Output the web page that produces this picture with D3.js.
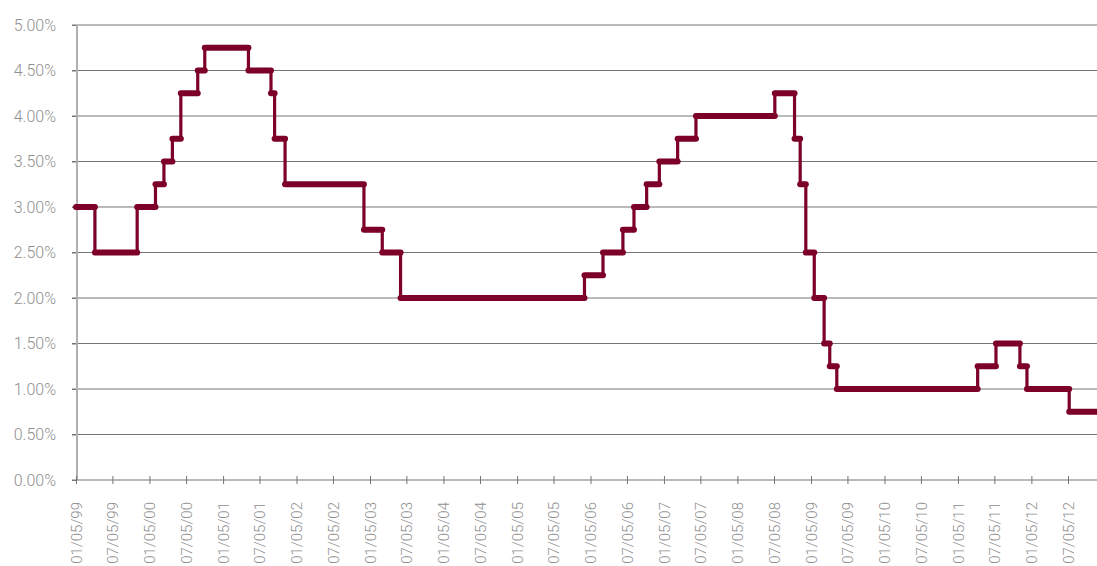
<!DOCTYPE html>
<html>
<head>
<meta charset="utf-8">
<script src="https://cdn.jsdelivr.net/npm/d3@7"></script>
<style>
  html, body { margin: 0; padding: 0; background: #fff; }
  svg { display: block; }
  text { font-family: Roboto, "Noto Sans", sans-serif; font-weight: 300; fill: #8f8f8f; }
</style>
</head>
<body>
<svg id="chart" width="1097" height="566"></svg>
<script>
// Policy rate: dates when the rate changed, and the rate (%) from that date on
const changeDates = [
  "1999-01-05","1999-04-09","1999-11-05","2000-02-04","2000-03-17","2000-04-28",
  "2000-06-09","2000-09-01","2000-10-06","2001-05-11","2001-08-31","2001-09-18",
  "2001-11-09","2002-12-06","2003-03-07","2003-06-06","2005-12-06","2006-03-08",
  "2006-06-15","2006-08-09","2006-10-11","2006-12-13","2007-03-14","2007-06-13",
  "2008-07-09","2008-10-15","2008-11-12","2008-12-10","2009-01-21","2009-03-11",
  "2009-04-08","2009-05-13","2011-04-13","2011-07-13","2011-11-09","2011-12-14",
  "2012-07-11"
];
const rates = [
  3.00, 2.50, 3.00, 3.25, 3.50, 3.75,
  4.25, 4.50, 4.75, 4.50, 4.25, 3.75,
  3.25, 2.75, 2.50, 2.00, 2.25, 2.50,
  2.75, 3.00, 3.25, 3.50, 3.75, 4.00,
  4.25, 3.75, 3.25, 2.50, 2.00, 1.50,
  1.25, 1.00, 1.25, 1.50, 1.25, 1.00,
  0.75
];
const seriesEnd = "2012-12-31";

// Axis ticks
const xTickDates = [
  "1999-01-05","1999-07-05","2000-01-05","2000-07-05","2001-01-05","2001-07-05",
  "2002-01-05","2002-07-05","2003-01-05","2003-07-05","2004-01-05","2004-07-05",
  "2005-01-05","2005-07-05","2006-01-05","2006-07-05","2007-01-05","2007-07-05",
  "2008-01-05","2008-07-05","2009-01-05","2009-07-05","2010-01-05","2010-07-05",
  "2011-01-05","2011-07-05","2012-01-05","2012-07-05"
];
const yTicks = [0, 0.5, 1.0, 1.5, 2.0, 2.5, 3.0, 3.5, 4.0, 4.5, 5.0];

const parse = d3.timeParse("%Y-%m-%d");
const fmtX = d3.timeFormat("%m/%d/%y");
const fmtY = d => d.toFixed(2) + "%";

const W = 1097, H = 566;
const svg = d3.select("#chart");

const x = d3.scaleTime()
  .domain([parse("1999-01-05"), parse("2012-07-05")])
  .range([76, 1068]);
const y = d3.scaleLinear().domain([0, 5]).range([480, 25]);

// Horizontal gridlines
svg.append("g")
  .selectAll("line")
  .data(yTicks.filter(v => v > 0))
  .join("line")
  .attr("x1", 72).attr("x2", W)
  .attr("y1", d => y(d)).attr("y2", d => y(d))
  .attr("stroke", "#747474").attr("stroke-width", 1);

// Y axis labels and ticks
const yAxis = d3.axisLeft(y).tickValues(yTicks).tickFormat(fmtY).tickSize(4).tickPadding(16);
const gy = svg.append("g").attr("transform", "translate(76,0)").call(yAxis);
gy.select(".domain").remove();
gy.selectAll(".tick line").attr("stroke", "#747474");
gy.selectAll(".tick text")
  .attr("font-size", 16).attr("font-family", null).attr("fill", "#8c8c8c");
svg.append("line")
  .attr("x1", 77).attr("x2", 77).attr("y1", y(5)).attr("y2", y(0))
  .attr("stroke", "#b0b0b0").attr("stroke-width", 2);

// X axis
svg.append("line")
  .attr("x1", 72).attr("x2", W).attr("y1", y(0)).attr("y2", y(0))
  .attr("stroke", "#747474").attr("stroke-width", 1);
const xAxis = d3.axisBottom(x)
  .tickValues(xTickDates.map(parse))
  .tickFormat(fmtX)
  .tickSizeInner(4).tickSizeOuter(0).tickPadding(0);
const gx = svg.append("g").attr("transform", `translate(0,${y(0)})`).call(xAxis);
gx.select(".domain").remove();
gx.selectAll(".tick line").attr("y1", -4).attr("y2", 4).attr("stroke", "#747474");
gx.selectAll(".tick text")
  .attr("font-size", 15).attr("font-family", null).attr("fill", "#969696")
  .attr("text-anchor", "end")
  .attr("transform", "rotate(-90)")
  .attr("x", -22).attr("y", 0).attr("dy", "0.35em");

// Step series
const steps = changeDates.map((d, i) => ({
  start: parse(d),
  end: parse(i + 1 < changeDates.length ? changeDates[i + 1] : seriesEnd),
  rate: rates[i]
}));
const stepPoints = steps.flatMap(s => [[s.start, s.rate], [s.end, s.rate]]);
const color = "#7c0027";

svg.append("path")
  .datum(stepPoints)
  .attr("fill", "none")
  .attr("stroke", color)
  .attr("stroke-width", 3.2)
  .attr("stroke-linejoin", "round")
  .attr("d", d3.line().x(d => x(d[0])).y(d => y(d[1])));

svg.append("g")
  .selectAll("line")
  .data(steps)
  .join("line")
  .attr("x1", d => x(d.start)).attr("x2", d => x(d.end))
  .attr("y1", d => y(d.rate)).attr("y2", d => y(d.rate))
  .attr("stroke", color)
  .attr("stroke-width", 6)
  .attr("stroke-linecap", "round");
</script>
</body>
</html>
